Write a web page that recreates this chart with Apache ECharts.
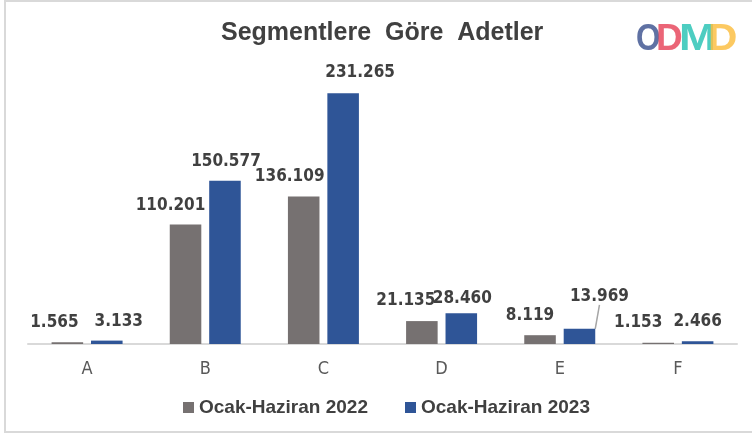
<!DOCTYPE html>
<html>
<head>
<meta charset="utf-8">
<script src="https://cdn.jsdelivr.net/npm/echarts@6/dist/echarts.min.js"></script>
<style>
  html, body { margin: 0; padding: 0; background: #fff; }
  #chart { width: 752px; height: 435px; }
</style>
</head>
<body>
<div id="chart"></div>
<script>
// Segment counts, Jan-Jun 2022 vs Jan-Jun 2023
const categories = ['A', 'B', 'C', 'D', 'E', 'F'];
const period2022 = [1565, 110201, 136109, 21135, 8119, 1153];
const period2023 = [3133, 150577, 231265, 28460, 13969, 2466];
const seriesNames = ['Ocak-Haziran 2022', 'Ocak-Haziran 2023'];

// hand-placed label nudges, as in the original workbook
const labelShift = [
  [[-13, 0], [-15, 1], [-14, 0], [-16, -1], [-10, 0], [-20, -1]],
  [[12, 0], [1, 0], [17, -1], [1, 5], [20, -13], [0, 0]]
];

const narrow = "'DejaVu Sans Condensed', 'Liberation Sans Narrow', sans-serif";
const dotted = v => String(v).replace(/\B(?=(\d{3})+(?!\d))/g, '.');

var chart = echarts.init(document.getElementById('chart'));

function barSeries(idx, values, color) {
  return {
    name: seriesNames[idx],
    type: 'bar',
    barWidth: '26.7%',
    barGap: '25%',
    itemStyle: { color: color },
    label: {
      show: true,
      position: 'top',
      distance: 11,
      color: '#404040',
      fontFamily: narrow,
      fontWeight: 'bold',
      fontSize: 17,
      formatter: p => dotted(p.value)
    },
    labelLayout: function (p) {
      const s = labelShift[idx][p.dataIndex];
      return { dx: s[0], dy: s[1] };
    },
    data: values.map((v, i) => {
      // the E / 2023 label sits off its bar with a leader line
      if (idx === 1 && i === 4) {
        return { value: v, labelLine: { show: true, lineStyle: { color: '#a6a6a6', width: 1.5 } } };
      }
      return v;
    })
  };
}

const option = {
  animation: false,
  title: {
    text: 'Segmentlere  Göre  Adetler',
    left: 221,
    top: 21,
    padding: 0,
    textStyle: {
      fontFamily: "'Liberation Sans', sans-serif",
      fontWeight: 'bold',
      fontSize: 25,
      color: '#404040'
    }
  },
  legend: {
    left: 178,
    top: 393,
    itemWidth: 11,
    itemHeight: 11,
    itemGap: 37,
    icon: 'rect',
    textStyle: {
      fontFamily: "'Liberation Sans', sans-serif",
      fontWeight: 'bold',
      fontSize: 19,
      color: '#404040'
    },
    data: seriesNames
  },
  grid: { left: 28, right: 15, top: 73, bottom: 91 },
  xAxis: {
    type: 'category',
    data: categories,
    axisLine: { lineStyle: { color: '#d9d9d9', width: 2 } },
    axisTick: { show: false },
    axisLabel: {
      color: '#595959',
      fontFamily: narrow,
      fontSize: 18,
      margin: 16
    }
  },
  yAxis: {
    type: 'value',
    min: 0,
    max: 250000,
    show: false,
    splitLine: { show: false }
  },
  series: [
    barSeries(0, period2022, '#767171'),
    barSeries(1, period2023, '#2f5597')
  ],
  graphic: [
    {
      type: 'rect',
      shape: { x: 5, y: 1, width: 760, height: 431 },
      style: { fill: null, stroke: '#d9d9d9', lineWidth: 2 },
      silent: true
    },
    // ODMD logo
    { type: 'text', left: 636, top: 21, scaleX: 0.85, style: { text: 'O', fill: '#4e6299', opacity: 0.9, font: 'bold 37px "Liberation Sans", sans-serif' } },
    { type: 'text', left: 656, top: 21, scaleX: 1.0, style: { text: 'D', fill: '#e84a5f', opacity: 0.85, font: 'bold 37px "Liberation Sans", sans-serif' } },
    { type: 'text', left: 679, top: 21, scaleX: 1.2, style: { text: 'M', fill: '#2ec4b6', opacity: 0.85, font: 'bold 37px "Liberation Sans", sans-serif' } },
    { type: 'text', left: 708, top: 21, scaleX: 1.1, style: { text: 'D', fill: '#fbbf45', opacity: 0.85, font: 'bold 37px "Liberation Sans", sans-serif' } }
  ]
};

chart.setOption(option);
</script>
</body>
</html>
